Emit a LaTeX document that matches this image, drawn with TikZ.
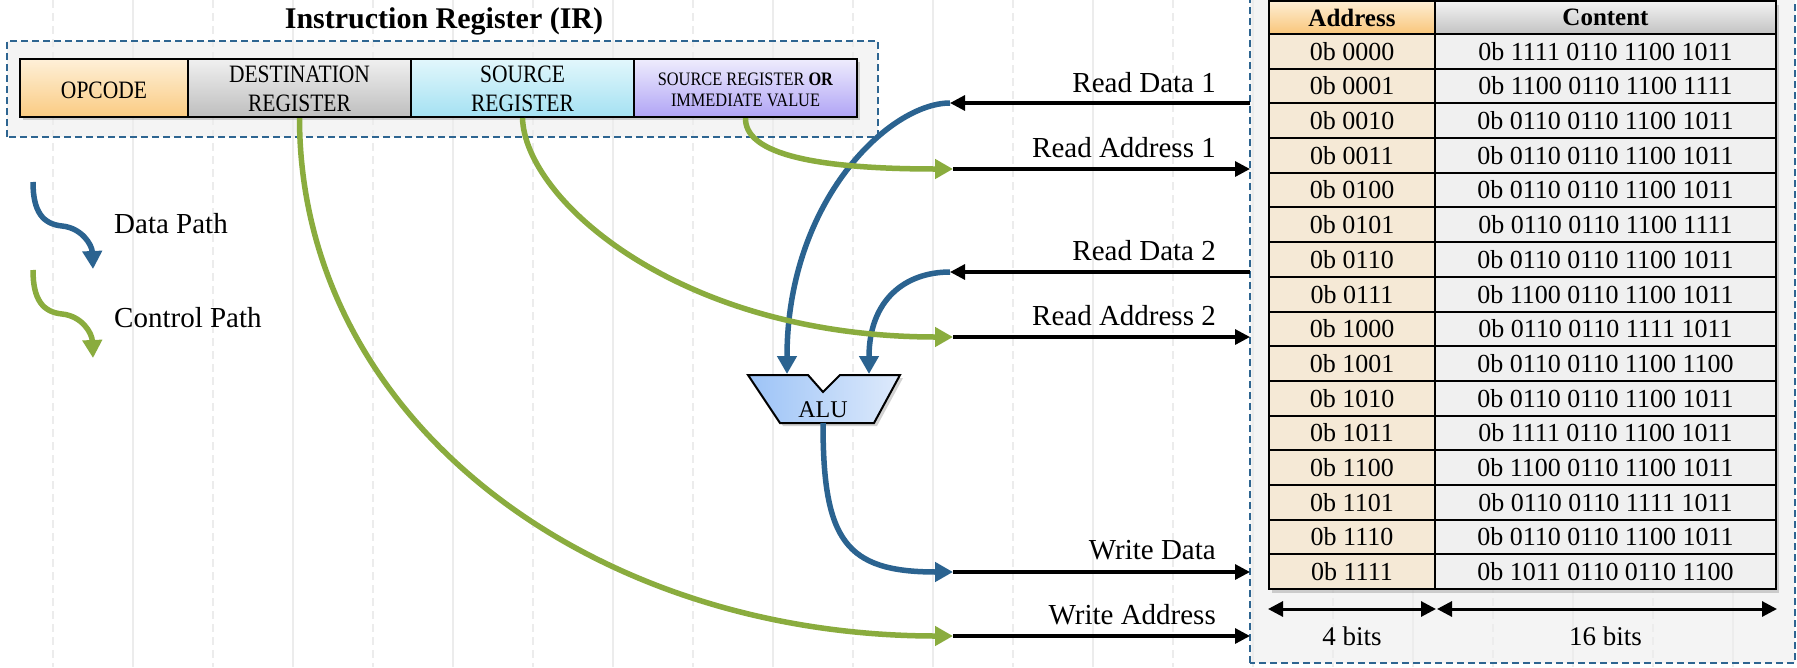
\documentclass[tikz,border=0pt]{standalone}
\usepackage{fontspec}
\usepackage{graphicx}
\setmainfont{Liberation Serif}
\usetikzlibrary{arrows.meta,shadows}

\definecolor{dpblue}{RGB}{43,99,144}
\definecolor{cpgreen}{RGB}{138,172,62}
\definecolor{boxline}{RGB}{46,101,145}
\definecolor{panel}{RGB}{244,244,244}
\definecolor{gridgray}{RGB}{236,236,236}
\definecolor{opTop}{RGB}{254,240,216}
\definecolor{opBot}{RGB}{250,203,130}
\definecolor{dsTop}{RGB}{240,240,240}
\definecolor{dsBot}{RGB}{190,190,190}
\definecolor{srTop}{RGB}{226,247,252}
\definecolor{srBot}{RGB}{164,225,242}
\definecolor{imTop}{RGB}{238,236,253}
\definecolor{imBot}{RGB}{176,164,245}
\definecolor{haTop}{RGB}{254,238,212}
\definecolor{haBot}{RGB}{249,198,122}
\definecolor{hcTop}{RGB}{244,244,244}
\definecolor{hcBot}{RGB}{194,194,194}
\definecolor{addrfill}{RGB}{245,233,214}
\definecolor{contfill}{RGB}{240,240,240}
\definecolor{aluL}{RGB}{156,195,247}
\definecolor{aluR}{RGB}{222,234,251}

\newcommand{\twolines}[2]{\begin{tabular}{@{}c@{}}#1\\#2\end{tabular}}

\begin{document}
\begin{tikzpicture}[x=1pt,y=-1pt,
  panelfill/.style={fill=panel, inner sep=0pt, outer sep=0pt},
  panelborder/.style={draw=boxline, line width=2pt, dash pattern=on 7pt off 4pt},
  gridsolid/.style={draw=gridgray, line width=1.5pt},
  griddash/.style={draw=gridgray, line width=1.5pt, dash pattern=on 8pt off 5pt},
  field/.style={draw=black, line width=2.2pt, minimum height=58pt, inner sep=0pt,
    drop shadow={shadow xshift=3pt, shadow yshift=-3pt, opacity=0.35}},
  fieldtext/.style={inner sep=0pt, font=\fontsize{25}{29}\selectfont},
  smallfieldtext/.style={inner sep=0pt, font=\fontsize{19}{21}\selectfont},
  datapath/.style={draw=dpblue, line width=5.5pt, -{Triangle[length=18pt,width=19pt]}},
  ctrlpath/.style={draw=cpgreen, line width=5.5pt, -{Triangle[length=18pt,width=19pt]}},
  bus/.style={draw=black, line width=3.2pt, -{Triangle[length=15pt,width=15pt]}},
  dimarrow/.style={draw=black, line width=3pt, {Triangle[length=15pt,width=15pt]}-{Triangle[length=15pt,width=15pt]}},
  lbl/.style={inner sep=0pt, font=\fontsize{29}{33}\selectfont},
  cell/.style={draw=black, line width=2pt, minimum height=34.6875pt, inner sep=0pt,
    font=\fontsize{26}{30}\selectfont},
  hdrcell/.style={draw=black, line width=2pt, minimum height=33pt, inner sep=0pt,
    font=\bfseries\fontsize{25}{29}\selectfont}]

\useasboundingbox (0,0) rectangle (1797,667);
\clip (0,0) rectangle (1797,667);
\fill[white] (0,0) rectangle (1797,667);

% panels behind the register and the memory
\node[panelfill, minimum width=871pt, minimum height=96pt] (irbox) at (442.5,89) {};
\node[panelfill, minimum width=545pt, minimum height=673pt] (membox) at (1522.5,326.5) {};

% faint background grid
\foreach \k in {0,...,21} {
  \pgfmathsetmacro\gx{53+80*\k}
  \ifodd\k
    \draw[gridsolid] (\gx,0) -- (\gx,667);
  \else
    \draw[griddash] (\gx,0) -- (\gx,667);
  \fi
}

\draw[panelborder] (irbox.south west) rectangle (irbox.north east);
\draw[panelborder] (membox.south west) rectangle (membox.north east);

% instruction register
\node[font=\bfseries\fontsize{30}{34}\selectfont, anchor=base, inner sep=0pt] (title) at (444,28) {Instruction Register (IR)};

\node[field, minimum width=168pt, top color=opTop, bottom color=opBot] (opc) at (104,88) {};
\node[field, minimum width=223pt, top color=dsTop, bottom color=dsBot] (dst) at (299.5,88) {};
\node[field, minimum width=223pt, top color=srTop, bottom color=srBot] (src) at (522.5,88) {};
\node[field, minimum width=223pt, top color=imTop, bottom color=imBot] (imm) at (745.5,88) {};

\node[fieldtext] (opct) at ([yshift=-2pt]opc.center) {\scalebox{0.86}[1]{OPCODE}};
\node[fieldtext] (dstt) at ([yshift=-3.5pt]dst.center) {\scalebox{0.86}[1]{\twolines{DESTINATION}{REGISTER}}};
\node[fieldtext] (srct) at ([yshift=-3.5pt]src.center) {\scalebox{0.86}[1]{\twolines{SOURCE}{REGISTER}}};
\node[smallfieldtext] (immt) at ([yshift=-3.3pt]imm.center) {\scalebox{0.86}[1]{\twolines{SOURCE REGISTER \textbf{OR}}{IMMEDIATE VALUE}}};

% legend
\coordinate (lgdA) at (33,182);
\coordinate (lgdB) at (93,269);
\coordinate (lgcA) at (33,270);
\coordinate (lgcB) at (93,358);
\draw[datapath] (lgdA) .. controls (33,212) and (43,224) .. (62,226) .. controls (82,228) and (92,245) .. (lgdB);
\draw[ctrlpath] (lgcA) .. controls (33,300) and (43,312) .. (62,314) .. controls (82,316) and (92,333) .. (lgcB);
\node[lbl, anchor=base west] (lgdt) at (114,233) {Data Path};
\node[lbl, anchor=base west] (lgct) at (114,327) {Control Path};

% memory table
\path[fill=white, drop shadow={shadow xshift=3pt, shadow yshift=-4pt, opacity=0.35}] (1269,1) rectangle (1776,589);
\node[hdrcell, minimum width=166pt, top color=haTop, bottom color=haBot] (ha) at (1352,17.5) {Address};
\node[hdrcell, minimum width=341pt, top color=hcTop, bottom color=hcBot] (hc) at (1605.5,17.5) {Content};
\foreach \a/\c [count=\i from 0] in {
  0000/1111 0110 1100 1011, 0001/1100 0110 1100 1111,
  0010/0110 0110 1100 1011, 0011/0110 0110 1100 1011,
  0100/0110 0110 1100 1011, 0101/0110 0110 1100 1111,
  0110/0110 0110 1100 1011, 0111/1100 0110 1100 1011,
  1000/0110 0110 1111 1011, 1001/0110 0110 1100 1100,
  1010/0110 0110 1100 1011, 1011/1111 0110 1100 1011,
  1100/1100 0110 1100 1011, 1101/0110 0110 1111 1011,
  1110/0110 0110 1100 1011, 1111/1011 0110 0110 1100} {
  \pgfmathsetmacro\ry{34+34.6875*(\i+0.5)}
  \node[cell, minimum width=166pt, fill=addrfill] (a\i) at (1352,\ry) {0b \a};
  \node[cell, minimum width=341pt, fill=contfill] (c\i) at (1605.5,\ry) {0b \c};
}

% bit widths
\coordinate (dimy) at (0,609);
\draw[dimarrow] (a15.south west |- dimy) -- (a15.south east |- dimy);
\draw[dimarrow] ([xshift=3pt]c15.south west |- dimy) -- (c15.south east |- dimy);
\node[lbl, anchor=base, font=\fontsize{27}{31}\selectfont] (b4) at (1352,645) {4 bits};
\node[lbl, anchor=base, font=\fontsize{27}{31}\selectfont] (b16) at (1605.5,645) {16 bits};

% ports of the register file
\coordinate (rd1) at (950,103);
\coordinate (ra1) at (953,169);
\coordinate (rd2) at (950,272);
\coordinate (ra2) at (953,337);
\coordinate (wd)  at (953,572);
\coordinate (wa)  at (953,636);

\draw[bus] (membox.west |- rd1) -- (rd1);
\draw[bus] (ra1) -- (membox.west |- ra1);
\draw[bus] (membox.west |- rd2) -- (rd2);
\draw[bus] (ra2) -- (membox.west |- ra2);
\draw[bus] (wd) -- (membox.west |- wd);
\draw[bus] (wa) -- (membox.west |- wa);

\node[lbl, anchor=base east] (trd1) at (1216,92)  {Read Data 1};
\node[lbl, anchor=base east] (tra1) at (1216,157) {Read Address 1};
\node[lbl, anchor=base east] (trd2) at (1216,260) {Read Data 2};
\node[lbl, anchor=base east] (tra2) at (1216,325) {Read Address 2};
\node[lbl, anchor=base east] (twd)  at (1216,559) {Write Data};
\node[lbl, anchor=base east] (twa)  at (1216,624) {Write Address};

% ALU
\path[left color=aluL, right color=aluR, draw=black, line width=2pt, line join=miter,
  drop shadow={shadow xshift=3pt, shadow yshift=-3pt, opacity=0.35}]
  (748,375) -- (808,375) -- (823,392) -- (840,375) -- (900,375) -- (874,423) -- (780,423) -- cycle;
\node[inner sep=0pt, font=\fontsize{24}{28}\selectfont] (alu) at (823,410) {ALU};
\coordinate (aluInL) at (787,374);
\coordinate (aluInR) at (869,374);
\coordinate (aluOut) at (823,423);

% data paths
\draw[datapath] (rd1) .. controls (890,103) and (787,200) .. (aluInL);
\draw[datapath] (rd2) .. controls (905,272) and (869,300) .. (aluInR);
\draw[datapath] (aluOut) .. controls (823,540) and (845,572) .. (wd);

% control paths
\draw[ctrlpath] (imm.south) .. controls (745,150) and (800,169) .. (ra1);
\draw[ctrlpath] (src.south) .. controls (525,200) and (680,337) .. (ra2);
\draw[ctrlpath] (dst.south) .. controls (300,420) and (590,636) .. (wa);

\end{tikzpicture}
\end{document}
